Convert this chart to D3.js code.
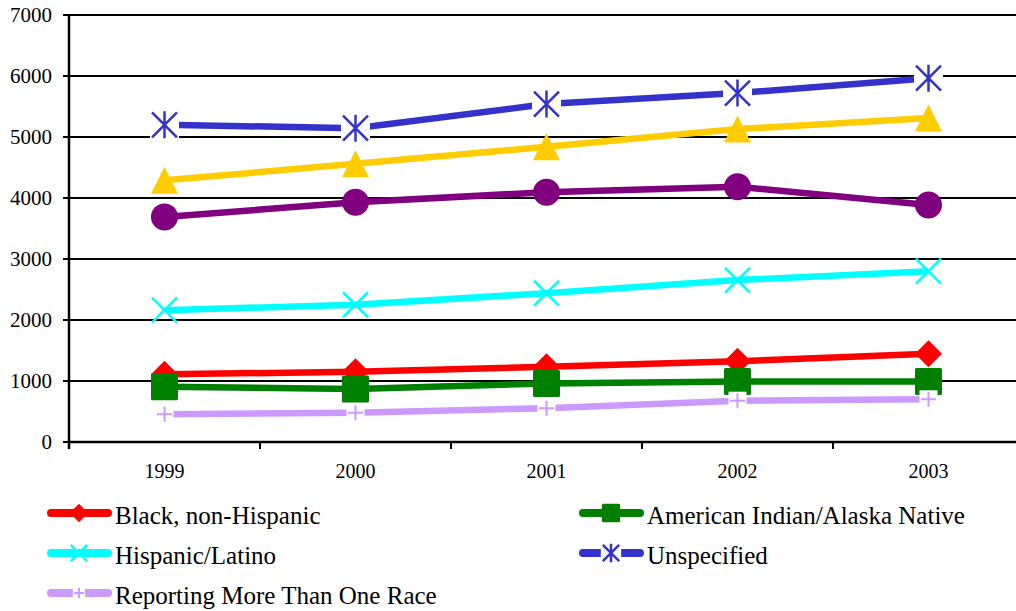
<!DOCTYPE html>
<html><head><meta charset="utf-8">
<script src="https://cdn.jsdelivr.net/npm/d3@7"></script>
</head>
<body style="margin:0;background:#fff">
<svg id="chart" width="1016" height="611" style="display:block"></svg>
<script>
const years = ["1999","2000","2001","2002","2003"];
const yTicks = [0,1000,2000,3000,4000,5000,6000,7000];

const whiteVals       = [4290, 4560, 4840, 5130, 5310];
const asianVals       = [3690, 3930, 4095, 4185, 3885];
const blackVals       = [1110, 1150, 1235, 1325, 1445];
const aianVals        = [905, 870, 960, 990, 990];
const hispanicVals    = [2160, 2250, 2440, 2655, 2800];
const unspecifiedVals = [5200, 5145, 5540, 5720, 5965];
const multiVals       = [455, 480, 555, 677, 700];

const seriesNames  = ["(yellow)", "(purple)", "Black, non-Hispanic", "American Indian/Alaska Native", "Hispanic/Latino", "Unspecified", "Reporting More Than One Race"];
const seriesValues = [whiteVals, asianVals, blackVals, aianVals, hispanicVals, unspecifiedVals, multiVals];
const seriesColors = ["#FFCC00", "#800080", "#FF0000", "#008000", "#00FFFF", "#3333CC", "#CC99FF"];
const seriesMarkers = ["triangle", "circle", "diamond", "square", "x", "asterisk", "plus"];
const seriesInLegend = [false, false, true, true, true, true, true];

const svg = d3.select("#chart");
const x = d3.scaleBand().domain(years).range([69, 1024]).padding(0);
const y = d3.scaleLinear().domain([0, 7000]).range([442, 15]);
const cx = d => x(d) + x.bandwidth() / 2;

// gridlines
svg.append("g").selectAll("line").data(yTicks.filter(t => t > 0)).join("line")
  .attr("x1", 69).attr("x2", 1016)
  .attr("y1", d => y(d)).attr("y2", d => y(d))
  .attr("stroke", "#000").attr("stroke-width", 2);

// y axis ticks (through the scale)
svg.append("g").selectAll("line").data(yTicks).join("line")
  .attr("x1", 63).attr("x2", 69).attr("y1", d => y(d)).attr("y2", d => y(d))
  .attr("stroke", "#000").attr("stroke-width", 2);
svg.append("g").selectAll("text").data(yTicks).join("text")
  .attr("x", 52).attr("y", d => y(d) + 7)
  .attr("text-anchor", "end")
  .attr("font-family", "Liberation Serif").attr("font-size", 21).attr("fill", "#000")
  .text(d => String(d));
svg.append("line").attr("x1", 69).attr("x2", 69).attr("y1", y(7000) - 1).attr("y2", 449).attr("stroke", "#000").attr("stroke-width", 2.5);

// x axis
svg.append("line").attr("x1", 68).attr("x2", 1016).attr("y1", y(0)).attr("y2", y(0)).attr("stroke", "#000").attr("stroke-width", 2.5);
svg.append("g").selectAll("line").data(years.slice(1)).join("line")
  .attr("x1", d => x(d)).attr("x2", d => x(d))
  .attr("y1", y(0)).attr("y2", y(0) + 7)
  .attr("stroke", "#000").attr("stroke-width", 2);
svg.append("g").selectAll("text").data(years).join("text")
  .attr("x", d => cx(d)).attr("y", 478)
  .attr("text-anchor", "middle")
  .attr("font-family", "Liberation Serif").attr("font-size", 20).attr("fill", "#000")
  .text(d => d);

function drawMarker(g, type, color, s) {
  const h = 13.5 * s;
  if (type === "triangle") {
    g.append("path").attr("d", `M0,${-h}L${h},${h}L${-h},${h}Z`).attr("fill", color);
  } else if (type === "circle") {
    g.append("circle").attr("r", h).attr("fill", color);
  } else if (type === "diamond") {
    g.append("path").attr("d", `M0,${-h}L${h},0L0,${h}L${-h},0Z`).attr("fill", color);
  } else if (type === "square") {
    g.append("rect").attr("x", -h + 1.5).attr("y", -h + 1.5).attr("width", 2 * h - 3).attr("height", 2 * h - 3)
      .attr("fill", color).attr("stroke", color).attr("stroke-width", 3).attr("stroke-linejoin", "round");
  } else if (type === "x") {
    const k = h - 1;
    g.append("path").attr("d", `M${-k},${-k}L${k},${k}M${k},${-k}L${-k},${k}`)
      .attr("stroke", color).attr("stroke-width", 2.5).attr("fill", "none");
  } else if (type === "asterisk") {
    const w = h + 1;
    g.append("rect").attr("x", -w).attr("y", -w).attr("width", 2 * w).attr("height", 2 * w).attr("fill", "#fff");
    const k = h - 1;
    g.append("path").attr("d", `M${-k},${-k}L${k},${k}M${k},${-k}L${-k},${k}M0,${-h}L0,${h}`)
      .attr("stroke", color).attr("stroke-width", 2.5).attr("fill", "none");
  } else if (type === "plus") {
    const w = 9 * s;
    g.append("rect").attr("x", -w).attr("y", -w).attr("width", 2 * w).attr("height", 2 * w).attr("fill", "#fff");
    const k = 7.5 * s;
    g.append("path").attr("d", `M${-k},0L${k},0M0,${-k}L0,${k}`)
      .attr("stroke", color).attr("stroke-width", 2).attr("fill", "none");
  }
}

const line = d3.line().x((d, i) => cx(years[i])).y(d => y(d));

seriesValues.forEach((vals, si) => {
  const g = svg.append("g");
  g.append("path").attr("d", line(vals)).attr("fill", "none")
    .attr("stroke", seriesColors[si]).attr("stroke-width", 6.5)
    .attr("stroke-linejoin", "round");
  vals.forEach((v, i) => {
    const mg = g.append("g").attr("transform", `translate(${cx(years[i])},${y(v)})`);
    drawMarker(mg, seriesMarkers[si], seriesColors[si], 1);
  });
});

// legend
const legendItems = seriesNames.map((n, i) => ({name: n, color: seriesColors[i], marker: seriesMarkers[i], show: seriesInLegend[i]})).filter(d => d.show);
const legendPos = [[48, 513], [580, 513], [48, 553], [580, 553], [48, 593]];
legendItems.forEach((it, i) => {
  const [lx, ly] = legendPos[i];
  const g = svg.append("g").attr("transform", `translate(${lx},${ly})`);
  g.append("line").attr("x1", 3).attr("x2", 60).attr("y1", 0).attr("y2", 0)
    .attr("stroke", it.color).attr("stroke-width", 8).attr("stroke-linecap", "round");
  const mg = g.append("g").attr("transform", "translate(31,0)");
  drawMarker(mg, it.marker, it.color, 0.68);
  g.append("text").attr("x", 67).attr("y", 11)
    .attr("font-family", "Liberation Serif").attr("font-size", 25).attr("fill", "#000")
    .text(it.name);
});
</script>
</body></html>
